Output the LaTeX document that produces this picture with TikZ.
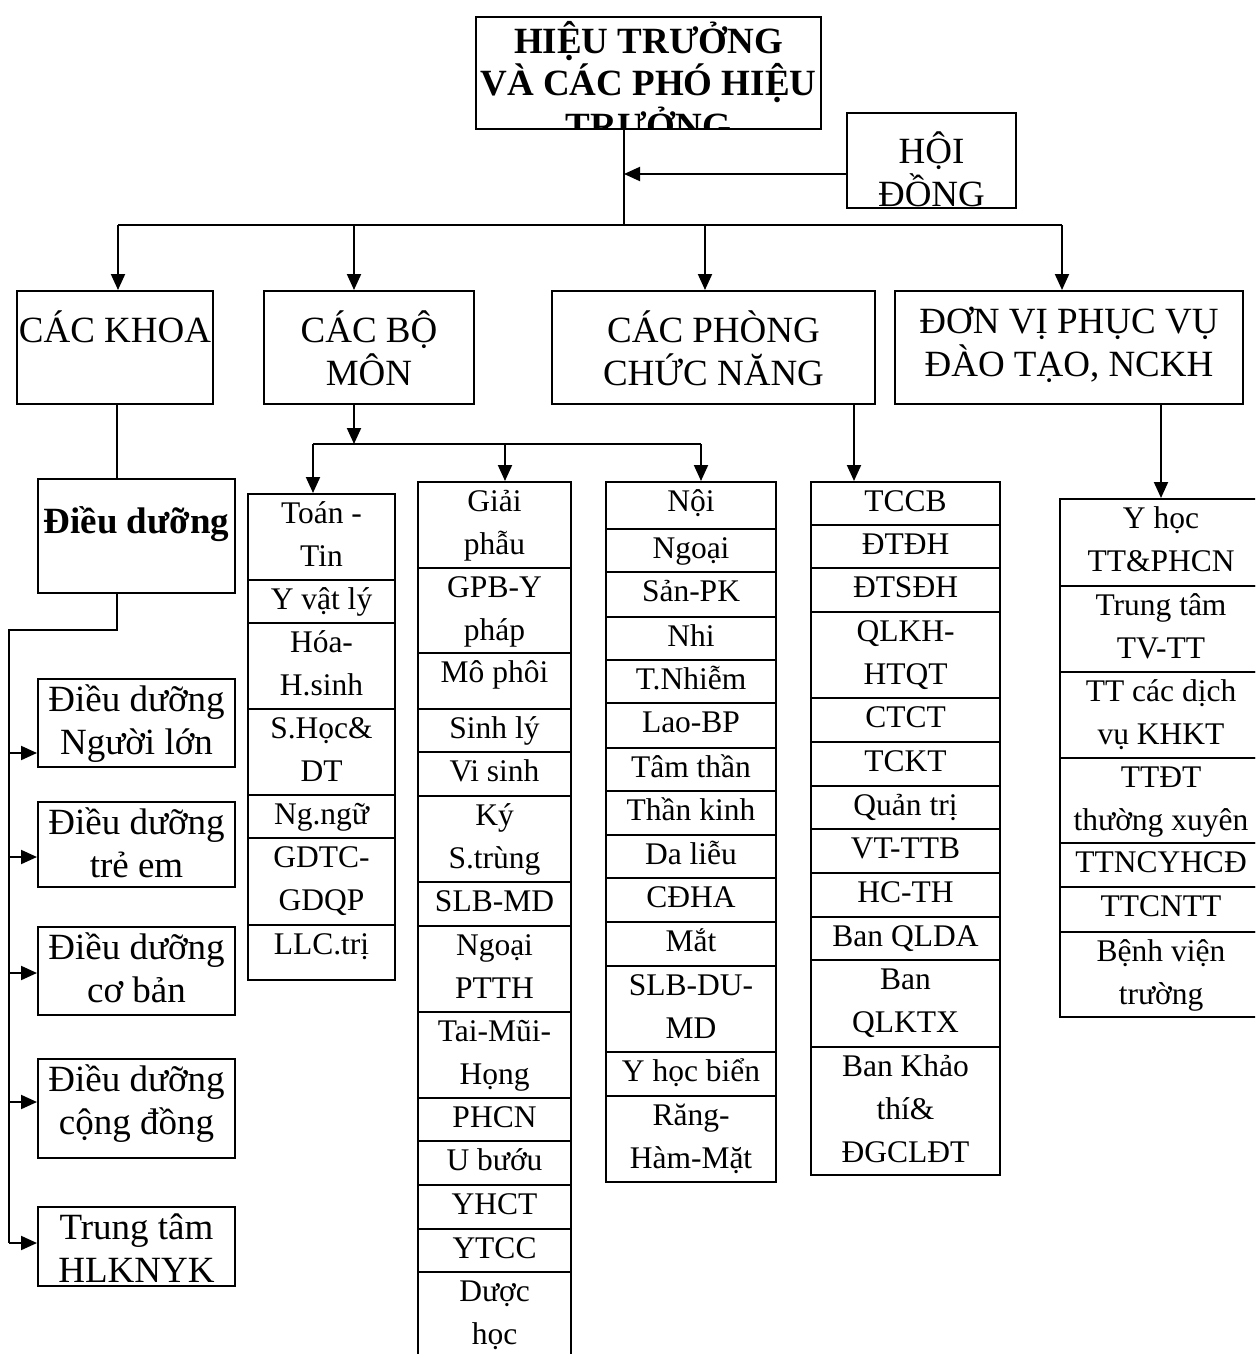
\documentclass[tikz,border=0pt]{standalone}
\usepackage{fontspec}
\setmainfont{Liberation Serif}
\usetikzlibrary{arrows.meta}

\newcommand{\headsize}{\fontsize{18.5pt}{21.5pt}\selectfont}
\newcommand{\cellsize}{\fontsize{15.75pt}{21.5pt}\selectfont}

\begin{document}
\begin{tikzpicture}[x=0.5pt, y=-0.5pt,
        box/.style={rectangle, draw=black, line width=1pt, inner sep=0pt, align=center, font=\headsize},
        cell/.style={rectangle, draw=black, line width=1pt, inner sep=0pt, align=center, font=\cellsize},
        wh/.style n args={3}{minimum width=(#1)*0.5pt, minimum height=(#2)*0.5pt, text height=(#3)*0.5pt, text depth=(#2-#3)*0.5pt},
        link/.style={line width=1pt},
        arr/.style={line width=1pt, -{Triangle[length=8pt, width=7pt]}}
    ]
        \useasboundingbox (0,0) rectangle (1255,1354);
        \clip (0,0) rectangle (1255,1354);

        % Ban giam hieu, last line cut by the frame
        \begin{scope}
            \clip (474,15) rectangle (823,130);
            \node[box, minimum width=172.5pt, minimum height=56pt, text height=66pt, text depth=0pt, inner ysep=-5pt, font=\headsize\bfseries] (ht) at (648.5,73) {HIỆU TRƯỞNG\\VÀ CÁC PHÓ HIỆU\\TRƯỞNG};
        \end{scope}
        \node[box, wh={169}{95}{93}] (hd) at (931.5,160.5) {HỘI\\ĐỒNG};

        % Level 2
        \node[box, wh={196}{113}{51}] (khoa) at (115,347.5) {CÁC KHOA};
        \node[box, wh={210}{113}{94}] (bomon) at (369,347.5) {CÁC BỘ\\MÔN};
        \node[box, wh={323}{113}{94}] (phong) at (713.5,347.5) {CÁC PHÒNG\\CHỨC NĂNG};
        \node[box, wh={348}{113}{85}] (donvi) at (1069,347.5) {ĐƠN VỊ PHỤC VỤ\\ĐÀO TẠO, NCKH};

        \coordinate (bus) at (624,225);
        \draw[link] (ht.south -| bus) -- (bus);
        \draw[arr] ([yshift=-6.75pt]hd.west) -- ([yshift=-6.75pt]hd.west -| bus);
        \draw[link] ([xshift=1.5pt]khoa.north |- bus) -- ([xshift=-3.5pt]donvi.north |- bus);
        \foreach \n/\s in {khoa/1.5, bomon/-7.5, phong/-4.25, donvi/-3.5}
            \draw[arr] ([xshift=\s pt]\n.north |- bus) -- ([xshift=\s pt]\n.north);

        % Cac khoa
        \node[box, wh={197}{114}{54}, font=\headsize\bfseries] (dd0) at (136.5,536) {Điều dưỡng};
        \coordinate (kx) at (117,630);
        \coordinate (kl) at (9,630);
        \draw[link] (khoa.south -| kx) -- (dd0.north -| kx);
        \draw[link] (dd0.south -| kx) -- (kx) -- (kl) -- (kl |- 0,1243);
        \foreach \yt/\yb/\ya/\txt [count=\i] in {679/767/753/{Điều dưỡng\\Người lớn}, 802/887/857/{Điều dưỡng\\trẻ em}, 927/1015/973/{Điều dưỡng\\cơ bản}, 1059/1158/1102/{Điều dưỡng\\cộng đồng}, 1207/1286/1243/{Trung tâm\\HLKNYK}} {
            \node[box, wh={197}{\yb-\yt}{75}] (dd\i) at (136.5,{(\yt+\yb)/2}) {\txt};
            \draw[arr] (kl |- 0,\ya) -- (dd\i.west |- 0,\ya);
        }

        % Cac bo mon
        \foreach \yt/\yb/\txt [count=\i] in {494/580/{Toán -\\Tin}, 580/623/{Y vật lý}, 623/709/{Hóa-\\H.sinh}, 709/795/{S.Học\&\\DT}, 795/838/{Ng.ngữ}, 838/925/{GDTC-\\GDQP}, 925/980/{LLC.trị}} {
            \pgfmathtruncatemacro{\lb}{29+43*(round((\yb-\yt)/43)-1)}
            \node[cell, wh={147}{\yb-\yt}{\lb}] (bm1-\i) at (321.5,{(\yt+\yb)/2}) {\txt};
        }
        \foreach \yt/\yb/\txt [count=\i] in {482/568/{Giải\\phẫu}, 568/653/{GPB-Y\\pháp}, 653/709/{Mô phôi}, 709/752/{Sinh lý}, 752/796/{Vi sinh}, 796/882/{Ký\\S.trùng}, 882/926/{SLB-MD}, 926/1012/{Ngoại\\PTTH}, 1012/1098/{Tai-Mũi-\\Họng}, 1098/1141/{PHCN}, 1141/1185/{U bướu}, 1185/1229/{YHCT}, 1229/1272/{YTCC}, 1272/1358/{Dược\\học}} {
            \pgfmathtruncatemacro{\lb}{29+43*(round((\yb-\yt)/43)-1)}
            \node[cell, wh={153}{\yb-\yt}{\lb}] (bm2-\i) at (494.5,{(\yt+\yb)/2}) {\txt};
        }
        \foreach \yt/\yb/\txt [count=\i] in {482/529/{Nội}, 529/572/{Ngoại}, 572/617/{Sản-PK}, 617/660/{Nhi}, 660/703/{T.Nhiễm}, 703/748/{Lao-BP}, 748/791/{Tâm thần}, 791/835/{Thần kinh}, 835/878/{Da liễu}, 878/922/{CĐHA}, 922/966/{Mắt}, 966/1052/{SLB-DU-\\MD}, 1052/1096/{Y học biển}, 1096/1182/{Răng-\\Hàm-Mặt}} {
            \pgfmathtruncatemacro{\lb}{29+43*(round((\yb-\yt)/43)-1)}
            \node[cell, wh={170}{\yb-\yt}{\lb}] (bm3-\i) at (691,{(\yt+\yb)/2}) {\txt};
        }

        \coordinate (sbl) at (313,444);
        \coordinate (sbm) at (505,444);
        \coordinate (sbr) at (701,444);
        \draw[arr] ([xshift=-7.5pt]bomon.south) -- ([xshift=-7.5pt]bomon.south |- sbl);
        \draw[link] (sbl) -- (sbr);
        \draw[arr] (sbl) -- (sbl |- bm1-1.north);
        \draw[arr] (sbm) -- (sbm |- bm2-1.north);
        \draw[arr] (sbr) -- (sbr |- bm3-1.north);

        % Cac phong chuc nang
        \foreach \yt/\yb/\txt [count=\i] in {482/525/{TCCB}, 525/568/{ĐTĐH}, 568/612/{ĐTSĐH}, 612/698/{QLKH-\\HTQT}, 698/742/{CTCT}, 742/786/{TCKT}, 786/829/{Quản trị}, 829/873/{VT-TTB}, 873/917/{HC-TH}, 917/960/{Ban QLDA}, 960/1047/{Ban\\QLKTX}, 1047/1175/{Ban Khảo\\thí\&\\ĐGCLĐT}} {
            \pgfmathtruncatemacro{\lb}{29+43*(round((\yb-\yt)/43)-1)}
            \node[cell, wh={189}{\yb-\yt}{\lb}] (pcn-\i) at (905.5,{(\yt+\yb)/2}) {\txt};
        }
        \draw[arr] ([xshift=70.25pt]phong.south) -- ([xshift=70.25pt]phong.south |- pcn-1.north);

        % Don vi phuc vu
        \foreach \yt/\yb/\txt [count=\i] in {499/586/{Y học\\TT\&PHCN}, 586/672/{Trung tâm\\TV-TT}, 672/758/{TT các dịch\\vụ KHKT}, 758/843/{TTĐT\\thường xuyên}, 843/887/{TTNCYHCĐ}, 887/932/{TTCNTT}, 932/1017/{Bệnh viện\\trường}} {
            \pgfmathtruncatemacro{\lb}{29+43*(round((\yb-\yt)/43)-1)}
            \node[cell, wh={202}{\yb-\yt}{\lb}] (dv-\i) at (1161,{(\yt+\yb)/2}) {\txt};
        }
        \draw[arr] (donvi.south -| dv-1.north) -- (dv-1.north);
\end{tikzpicture}
\end{document}
